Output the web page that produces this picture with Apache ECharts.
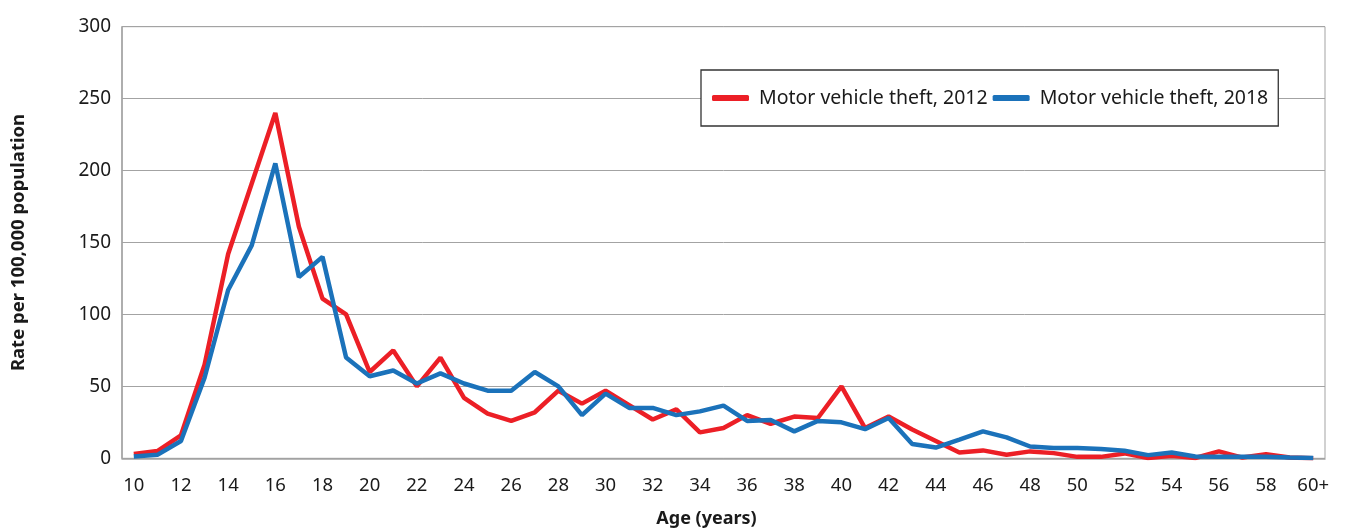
<!DOCTYPE html>
<html>
<head>
<meta charset="utf-8">
<script src="https://cdn.jsdelivr.net/npm/echarts@6/dist/echarts.min.js"></script>
<style>
  html, body {margin: 0; padding: 0; background: #fff;}
  #chart {width: 1345px; height: 531px;}
</style>
</head>
<body>
<div id="chart"></div>
<script>
// ages 10 .. 59, then 60+
const ages = ['10','11','12','13','14','15','16','17','18','19',
    '20','21','22','23','24','25','26','27','28','29',
    '30','31','32','33','34','35','36','37','38','39',
    '40','41','42','43','44','45','46','47','48','49',
    '50','51','52','53','54','55','56','57','58','59','60+'];

const theft2012 = [3, 5, 16, 65, 142, 191, 240, 161, 111, 100,
    60, 75, 50, 70, 42, 31, 26, 32, 47, 38,
    47, 37, 27, 34, 18, 21, 30, 24, 29, 28,
    50, 21, 29, 20, 12, 4, 5.5, 2.5, 4.8, 3.6,
    1, 1, 3.4, 0.2, 1.7, 0.2, 4.8, 0.5, 2.9, 0.5, 0];

const theft2018 = [1.3, 2.4, 12, 56, 117, 148, 205, 126, 140, 70,
    57, 61, 52, 59, 52, 47, 47, 60, 50, 30,
    45, 35, 35, 30, 32.6, 36.6, 26, 26.6, 18.7, 26,
    25, 20.3, 28, 10, 7.5, 13, 18.7, 14.5, 8.2, 7.1,
    7.1, 6.4, 5.2, 2.2, 4, 1.3, 1, 1, 1, 0.5, 0.2];

const yTicks = [0, 50, 100, 150, 200, 250, 300];

const font = 'Noto Sans';
const gray = '#a3a3a3';

const myChart = echarts.init(document.getElementById('chart'));
const option = {
    animation: false,
    textStyle: {fontFamily: font},
    grid: {left: 122, right: 20, top: 26.7, bottom: 72.7, outerBoundsMode: 'none',
        show: true, borderColor: gray, borderWidth: 1},
    legend: {
        left: 701, top: 70,
        padding: [17, 10, 17, 11],
        backgroundColor: '#fff',
        borderColor: '#333', borderWidth: 1.3,
        itemWidth: 37, itemHeight: 6, itemGap: 5,
        icon: 'roundRect',
        textStyle: {fontFamily: font, fontSize: 19.5, color: '#1a1a1a', lineHeight: 22, padding: [0, 0, 0, 5]},
        data: ['Motor vehicle theft, 2012', 'Motor vehicle theft, 2018']
    },
    xAxis: {
        type: 'category', boundaryGap: true, data: ages,
        name: 'Age (years)', nameLocation: 'middle', nameGap: 52,
        nameTextStyle: {fontFamily: font, fontSize: 18, fontWeight: 'bold', color: '#1a1a1a', padding: [0, 34, 0, 0]},
        axisLine: {lineStyle: {color: gray, width: 1.5}},
        axisTick: {interval: 0, length: 5, lineStyle: {color: gray, width: 1.5}},
        axisLabel: {interval: 1, margin: 18, fontFamily: font, fontSize: 18.5, color: '#1a1a1a'}
    },
    yAxis: {
        type: 'value', min: 0, max: 300, interval: 50,
        name: 'Rate per 100,000 population', nameLocation: 'middle', nameGap: 94,
        nameTextStyle: {fontFamily: font, fontSize: 18.5, fontWeight: 'bold', color: '#1a1a1a'},
        axisLine: {show: true, lineStyle: {color: gray, width: 1.5}},
        axisTick: {show: false},
        axisLabel: {margin: 11, fontFamily: font, fontSize: 19, color: '#1a1a1a', padding: [0, 0, 5, 0],
            formatter: v => yTicks.includes(v) ? String(v) : ''},
        splitLine: {lineStyle: {color: gray, width: 1}}
    },
    series: [{
        name: 'Motor vehicle theft, 2012', type: 'line', data: theft2012,
        symbol: 'none', lineStyle: {width: 4.5, color: '#ec1f26'}, itemStyle: {color: '#ec1f26'}
    }, {
        name: 'Motor vehicle theft, 2018', type: 'line', data: theft2018,
        symbol: 'none', lineStyle: {width: 4.5, color: '#1b72ba'}, itemStyle: {color: '#1b72ba'}
    }]
};
myChart.setOption(option);
</script>
</body>
</html>
